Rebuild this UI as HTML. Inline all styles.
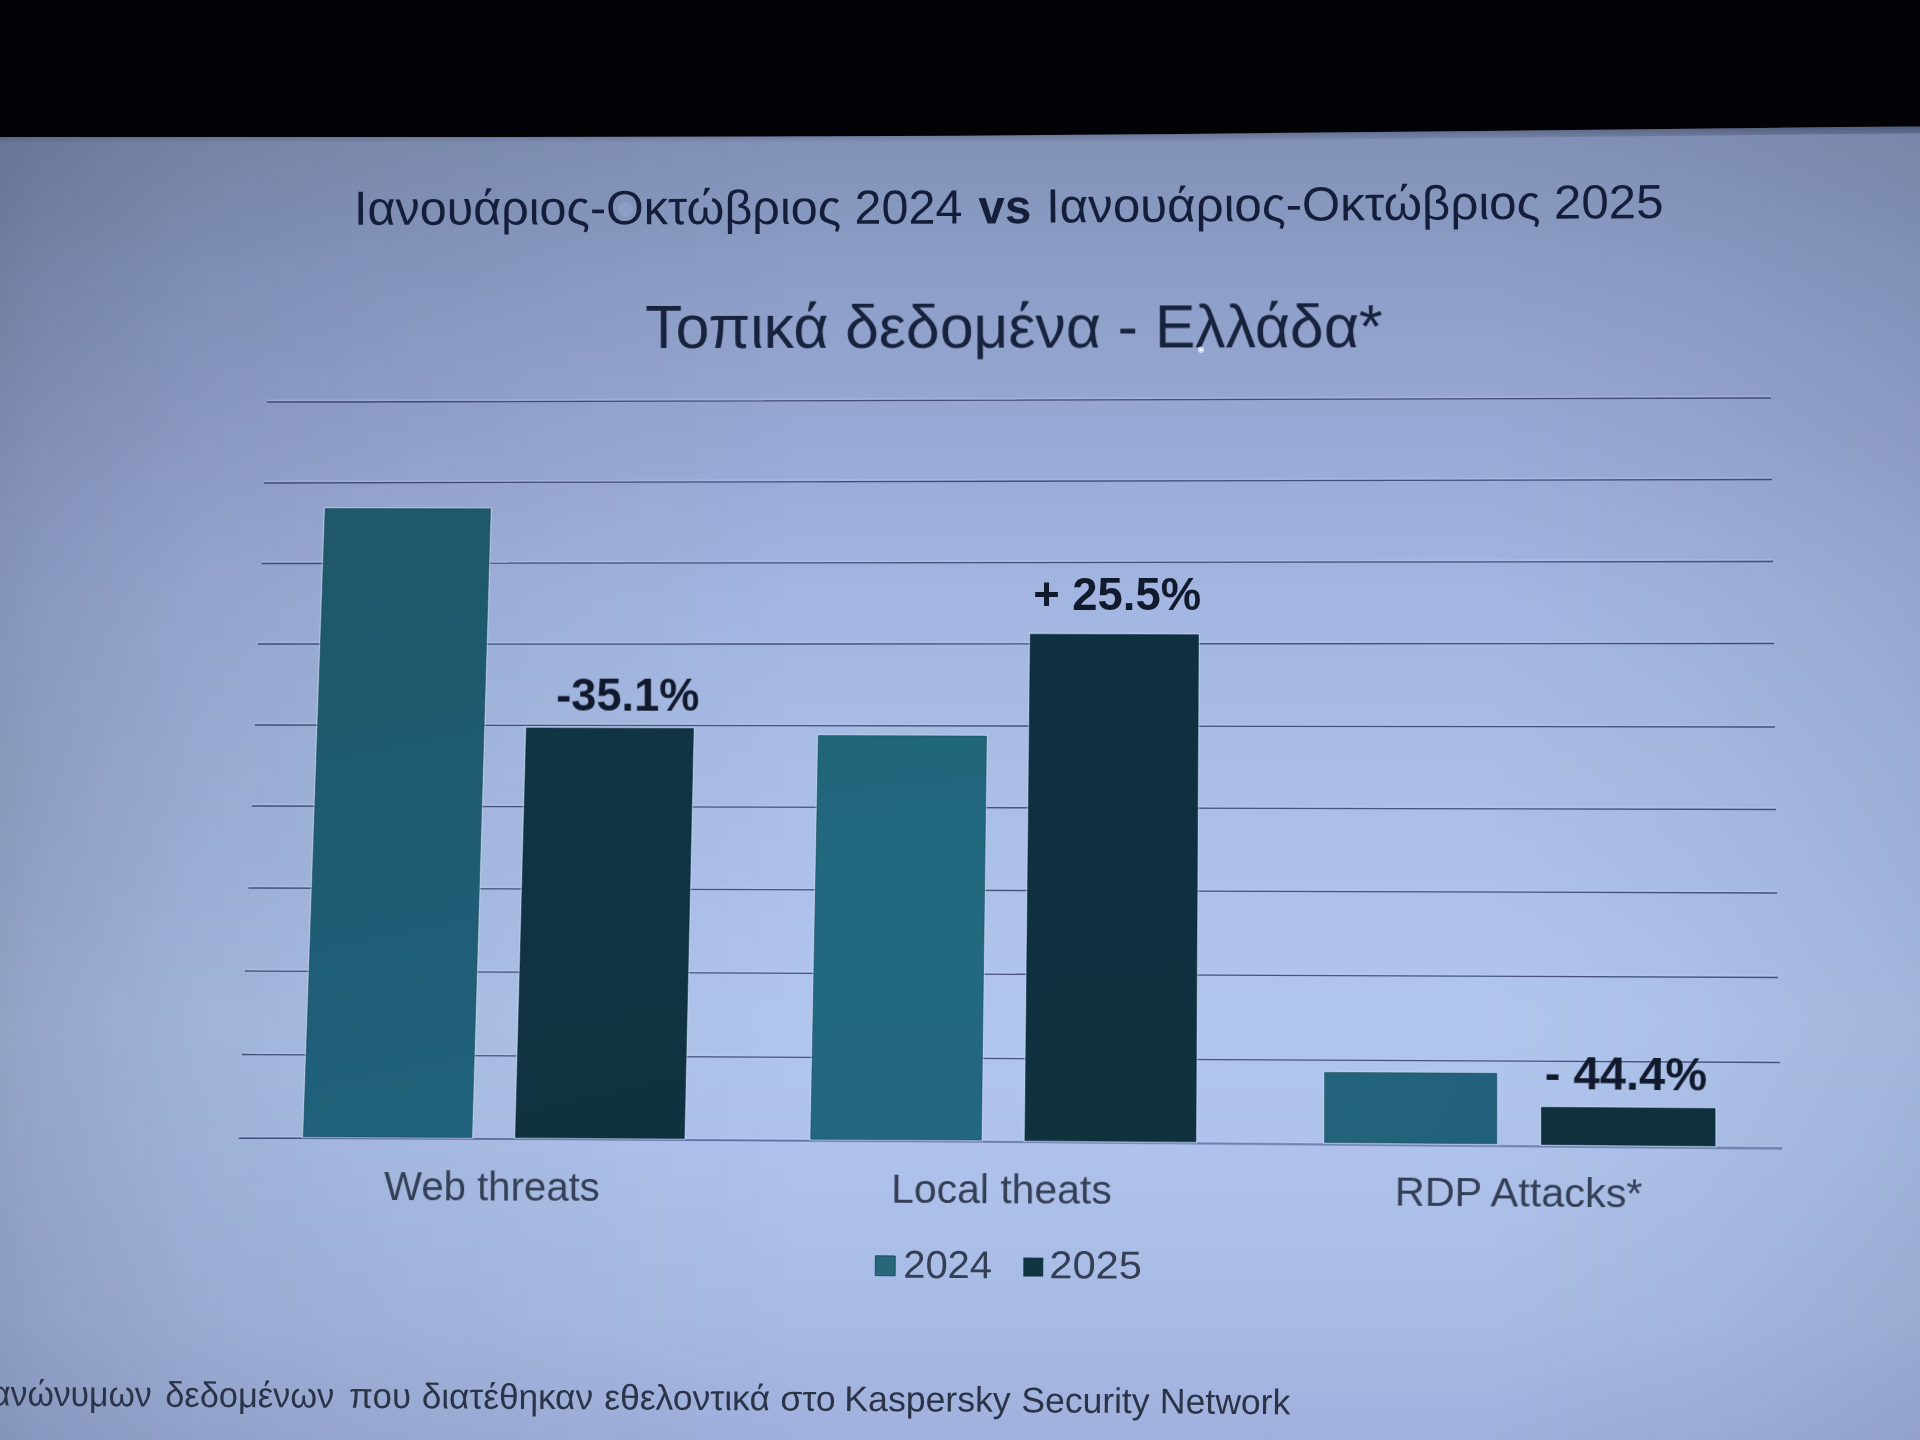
<!DOCTYPE html>
<html lang="el">
<head>
<meta charset="utf-8">
<title>Τοπικά δεδομένα - Ελλάδα</title>
<style>
  html, body { margin: 0; padding: 0; background: #030307; width: 1920px; height: 1440px; overflow: hidden; }
  svg { display: block; font-family: "Liberation Sans", sans-serif; }
  .t1 { fill: #141e3a; }
  .t2 { fill: #17223c; }
  .lab { fill: #343f55; }
  .pct { fill: #111a2c; font-weight: bold; }
  .foot { fill: #2a3348; }
  .grid { stroke: #303c66; stroke-opacity: 0.82; stroke-width: 1.3; fill: none; }
  .halo { stroke: #c4d2f4; stroke-opacity: 0.28; stroke-width: 1.6; fill: none; }
  .axis { stroke: #6070a4; stroke-opacity: 0.92; stroke-width: 2.5; fill: none; }
</style>
</head>
<body>
<svg width="1920" height="1440" viewBox="0 0 1920 1440">
  <defs>
    <linearGradient id="bgV" x1="0" y1="0" x2="0" y2="1440" gradientUnits="userSpaceOnUse">
      <stop offset="0.0951" stop-color="#8292b7"/>
      <stop offset="0.1146" stop-color="#8494ba"/>
      <stop offset="0.1875" stop-color="#8c9ec7"/>
      <stop offset="0.3090" stop-color="#99a9d5"/>
      <stop offset="0.4167" stop-color="#a3b6e1"/>
      <stop offset="0.5347" stop-color="#a9bde6"/>
      <stop offset="0.6042" stop-color="#acc0ea"/>
      <stop offset="0.7083" stop-color="#b1c6ee"/>
      <stop offset="0.7986" stop-color="#aec2eb"/>
      <stop offset="0.9167" stop-color="#a8bbe4"/>
      <stop offset="0.9861" stop-color="#a0b2dd"/>
      <stop offset="1.0000" stop-color="#9eb0db"/>
    </linearGradient>
    <linearGradient id="edgeL" x1="0" y1="0" x2="800" y2="0" gradientUnits="userSpaceOnUse">
      <stop offset="0" stop-color="#02040c" stop-opacity="0.205"/>
      <stop offset="0.05" stop-color="#02040c" stop-opacity="0.175"/>
      <stop offset="0.25" stop-color="#02040c" stop-opacity="0.105"/>
      <stop offset="0.5" stop-color="#02040c" stop-opacity="0.062"/>
      <stop offset="0.625" stop-color="#02040c" stop-opacity="0.045"/>
      <stop offset="0.81" stop-color="#02040c" stop-opacity="0.02"/>
      <stop offset="1" stop-color="#02040c" stop-opacity="0"/>
    </linearGradient>
    <linearGradient id="edgeLm" x1="0" y1="0" x2="0" y2="1440" gradientUnits="userSpaceOnUse">
      <stop offset="0" stop-color="#fff"/>
      <stop offset="0.15" stop-color="#fff"/>
      <stop offset="0.32" stop-color="#e0e0e0"/>
      <stop offset="0.55" stop-color="#f4f4f4"/>
      <stop offset="0.92" stop-color="#cfcfcf"/>
      <stop offset="1" stop-color="#c8c8c8"/>
    </linearGradient>
    <mask id="mL" maskUnits="userSpaceOnUse" x="0" y="0" width="1920" height="1440">
      <rect x="0" y="0" width="1920" height="1440" fill="url(#edgeLm)"/>
    </mask>
    <linearGradient id="edgeR" x1="1920" y1="0" x2="1480" y2="0" gradientUnits="userSpaceOnUse">
      <stop offset="0" stop-color="#02040c" stop-opacity="0.085"/>
      <stop offset="0.1" stop-color="#02040c" stop-opacity="0.072"/>
      <stop offset="0.5" stop-color="#02040c" stop-opacity="0.03"/>
      <stop offset="1" stop-color="#02040c" stop-opacity="0"/>
    </linearGradient>
    <linearGradient id="teal1" x1="0" y1="0" x2="0.06" y2="1">
      <stop offset="0" stop-color="#1f586a"/>
      <stop offset="0.15" stop-color="#1e586b"/>
      <stop offset="0.55" stop-color="#1f5c73"/>
      <stop offset="0.88" stop-color="#1f5f79"/>
      <stop offset="1" stop-color="#20627b"/>
    </linearGradient>
    <linearGradient id="teal3" x1="0" y1="0" x2="0.04" y2="1">
      <stop offset="0" stop-color="#21657a"/>
      <stop offset="0.5" stop-color="#226980"/>
      <stop offset="1" stop-color="#22667f"/>
    </linearGradient>
    <linearGradient id="teal5" x1="0" y1="0" x2="1" y2="0.2">
      <stop offset="0" stop-color="#23657c"/>
      <stop offset="1" stop-color="#21607b"/>
    </linearGradient>
    <linearGradient id="dark2" x1="0" y1="0" x2="0.1" y2="1">
      <stop offset="0" stop-color="#113444"/>
      <stop offset="0.5" stop-color="#103243"/>
      <stop offset="1" stop-color="#103240"/>
    </linearGradient>
    <linearGradient id="dark4" x1="0" y1="0" x2="0.05" y2="1">
      <stop offset="0" stop-color="#102f40"/>
      <stop offset="0.6" stop-color="#103041"/>
      <stop offset="1" stop-color="#11313f"/>
    </linearGradient>
    <filter id="soft" color-interpolation-filters="sRGB" x="-2%" y="-20%" width="104%" height="140%">
      <feGaussianBlur stdDeviation="0.55"/>
    </filter>
    <filter id="soft2" color-interpolation-filters="sRGB" x="-5%" y="-5%" width="110%" height="110%">
      <feGaussianBlur stdDeviation="0.6"/>
    </filter>
    <linearGradient id="axA" x1="238" y1="0" x2="1782" y2="0" gradientUnits="userSpaceOnUse">
      <stop offset="0" stop-color="#34427a" stop-opacity="0.9"/>
      <stop offset="0.5" stop-color="#44528a" stop-opacity="0.7"/>
      <stop offset="1" stop-color="#5a6a9c" stop-opacity="0.35"/>
    </linearGradient>
    <linearGradient id="axB" x1="238" y1="0" x2="1782" y2="0" gradientUnits="userSpaceOnUse">
      <stop offset="0" stop-color="#6e7eae" stop-opacity="0"/>
      <stop offset="0.45" stop-color="#6e7eae" stop-opacity="0.35"/>
      <stop offset="1" stop-color="#6e7eae" stop-opacity="0.85"/>
    </linearGradient>
    <linearGradient id="bandSh" x1="0" y1="128" x2="0" y2="143" gradientUnits="userSpaceOnUse">
      <stop offset="0" stop-color="#10142c" stop-opacity="0.34"/>
      <stop offset="0.55" stop-color="#10142c" stop-opacity="0.16"/>
      <stop offset="1" stop-color="#10142c" stop-opacity="0"/>
    </linearGradient>
  </defs>

  <!-- projected slide background -->
  <rect x="0" y="0" width="1920" height="1440" fill="url(#bgV)"/>
  <rect x="0" y="0" width="800" height="1440" fill="url(#edgeL)" mask="url(#mL)"/>
  <rect x="1480" y="0" width="440" height="1440" fill="url(#edgeR)"/>

  <!-- dark area above the screen -->
  <polygon points="0,136.9 500,136.9 750,136.5 960,135.7 1180,134.0 1400,131.8 1620,129.4 1840,127.0 1920,126.4 1920,133.4 1840,134.0 1620,136.4 1400,138.8 1180,141.0 960,142.7 750,143.5 500,143.9 0,143.9" fill="url(#bandSh)"/>
  <polygon points="0,0 1920,0 1920,126.4 1840,127.0 1620,129.4 1400,131.8 1180,134.0 960,135.7 750,136.5 500,136.9 0,136.9" fill="#030307" filter="url(#soft2)"/>
  <rect x="0" y="0" width="1920" height="120" fill="#030307"/>

  <!-- gridlines (left end -> right end) -->
  <g class="halo" transform="translate(0 -1.7)">
    <path d="M267 402 Q1019 402.20 1771 398"/>
    <path d="M264 483 Q1018 482.88 1772 479.5"/>
    <path d="M261.5 563.5 Q1017.25 563.56 1773 561.5"/>
    <path d="M258 644 Q1016 644.24 1774 643.5"/>
    <path d="M255 725 Q1015 725.92 1775 727"/>
    <path d="M252 806 Q1014 807.10 1776 809.5"/>
    <path d="M248.5 888 Q1012.75 889.27 1777 893"/>
    <path d="M245 971 Q1011.5 972.43 1778 977.5"/>
    <path d="M242 1054.5 Q1011 1056.09 1780 1062.5"/>
  </g>
  <g class="grid">
    <path d="M267 402 Q1019 402.20 1771 398"/>
    <path d="M264 483 Q1018 482.88 1772 479.5"/>
    <path d="M261.5 563.5 Q1017.25 563.56 1773 561.5"/>
    <path d="M258 644 Q1016 644.24 1774 643.5"/>
    <path d="M255 725 Q1015 725.92 1775 727"/>
    <path d="M252 806 Q1014 807.10 1776 809.5"/>
    <path d="M248.5 888 Q1012.75 889.27 1777 893"/>
    <path d="M245 971 Q1011.5 972.43 1778 977.5"/>
    <path d="M242 1054.5 Q1011 1056.09 1780 1062.5"/>
  </g>
  <path class="halo" d="M238.8 1136.4 L500 1137.2 L900 1139.4 L1110 1140.9 L1410 1143.4 L1782 1146.5"/>
  <path d="M238.8 1138.2 L303 1138.3 L500 1139 L900 1141.2 L1110 1142.7 L1410 1145.2 L1782 1148.4" fill="none" stroke="url(#axA)" stroke-width="1.4"/>
  <path d="M238.8 1138.2 L303 1138.3 L500 1139 L900 1141.2 L1110 1142.7 L1410 1145.2 L1782 1148.4" fill="none" stroke="url(#axB)" stroke-width="2.6"/>

  <!-- bars -->
  <g fill="none" stroke="#c2daf0" stroke-opacity="0.5" stroke-width="3.2" stroke-linejoin="miter" filter="url(#soft2)">
    <polygon points="325.2,508.6 490.5,508.8 471.8,1137.5 303.4,1136.7"/>
    <polygon points="526.4,727.9 693.5,728.4 684.3,1138.5 515.4,1137.6"/>
    <polygon points="818.4,735.6 986.5,736.1 981.3,1140.1 810.7,1139.2"/>
    <polygon points="1030.3,634.2 1198.5,634.7 1195.9,1141.8 1024.9,1140.6"/>
    <polygon points="1324.6,1072.4 1496.8,1073.3 1496.8,1143.8 1324.6,1142.5"/>
    <polygon points="1541.4,1107.2 1715.1,1108.4 1715.1,1145.9 1541.4,1144.4"/>
  </g>
  <g stroke-width="1" stroke-opacity="0.55" filter="url(#soft2)">
    <polygon fill="url(#teal1)" stroke="#17475a" points="325.2,508.6 490.5,508.8 471.8,1137.5 303.4,1136.7"/>
    <polygon fill="url(#dark2)" stroke="#0c2836" points="526.4,727.9 693.5,728.4 684.3,1138.5 515.4,1137.6"/>
    <polygon fill="url(#teal3)" stroke="#17475a" points="818.4,735.6 986.5,736.1 981.3,1140.1 810.7,1139.2"/>
    <polygon fill="url(#dark4)" stroke="#0c2836" points="1030.3,634.2 1198.5,634.7 1195.9,1141.8 1024.9,1140.6"/>
    <polygon fill="url(#teal5)" stroke="#17475a" points="1324.6,1072.4 1496.8,1073.3 1496.8,1143.8 1324.6,1142.5"/>
    <polygon fill="#11303d" stroke="#0c2836" points="1541.4,1107.2 1715.1,1108.4 1715.1,1145.9 1541.4,1144.4"/>
  </g>

  <!-- small lens artefacts -->
  <circle cx="625.5" cy="209.5" r="7.5" fill="#aab8dc" fill-opacity="0.28" filter="url(#soft2)"/>
  <g filter="url(#soft)">
  <!-- headings -->
  <text class="t1" font-size="48" transform="translate(353.9 224.8) rotate(-0.12)" textLength="608.5" lengthAdjust="spacingAndGlyphs">Ιανουάριος-Οκτώβριος 2024</text>
  <text class="t1" font-size="48" font-weight="bold" transform="translate(978.6 223.4) rotate(-0.3)" textLength="52.7" lengthAdjust="spacingAndGlyphs">vs</text>
  <text class="t1" font-size="48" transform="translate(1046.2 222.6) rotate(-0.43)" textLength="617.4" lengthAdjust="spacingAndGlyphs">Ιανουάριος-Οκτώβριος 2025</text>
  <text class="t2" font-size="60.5" transform="translate(645.2 348.0) rotate(-0.06)" textLength="737.3" lengthAdjust="spacingAndGlyphs">Τοπικά δεδομένα - Ελλάδα*</text>

  <!-- percentage labels -->
  <text class="pct" font-size="46" transform="translate(556.2 710.6) rotate(0.05)" textLength="143.2" lengthAdjust="spacingAndGlyphs">-35.1%</text>
  <text class="pct" font-size="46.5" transform="translate(1033.2 609.5) rotate(0)" textLength="167.9" lengthAdjust="spacingAndGlyphs">+ 25.5%</text>
  <text class="pct" font-size="47" transform="translate(1544.6 1088.8) rotate(0.6)" textLength="162.5" lengthAdjust="spacingAndGlyphs">- 44.4%</text>

  <!-- category labels -->
  <text class="lab" font-size="39.8" transform="translate(384.1 1200.0) rotate(0.25)" textLength="215.7" lengthAdjust="spacingAndGlyphs">Web threats</text>
  <text class="lab" font-size="39.8" transform="translate(891.1 1202.7) rotate(0.3)" textLength="220.7" lengthAdjust="spacingAndGlyphs">Local theats</text>
  <text class="lab" font-size="40.5" transform="translate(1394.7 1205.6) rotate(0.42)" textLength="247.7" lengthAdjust="spacingAndGlyphs">RDP Attacks*</text>

  <!-- legend -->
  <polygon fill="#28667a" stroke="#1b4c62" stroke-width="1" points="875.4,1255.8 895.2,1256 895.1,1275.8 875.3,1275.6"/>
  <text class="lab" font-size="39" transform="translate(903.2 1277.8) rotate(0.3)" textLength="88.8" lengthAdjust="spacingAndGlyphs">2024</text>
  <polygon fill="#123442" points="1023.4,1257.6 1043.3,1257.8 1043.2,1276.6 1023.3,1276.4"/>
  <text class="lab" font-size="39" transform="translate(1049.3 1278.2) rotate(0.3)" textLength="92.6" lengthAdjust="spacingAndGlyphs">2025</text>

  <!-- footnote -->
  <text class="foot" font-size="35.5" transform="translate(-8.9 1405.6) rotate(0.35)" textLength="160.5" lengthAdjust="spacingAndGlyphs">ανώνυμων</text>
  <text class="foot" font-size="35.5" transform="translate(165.2 1406.7) rotate(0.35)" textLength="169.0" lengthAdjust="spacingAndGlyphs">δεδομένων</text>
  <text class="foot" font-size="35.5" transform="translate(349.1 1407.8) rotate(0.35)" textLength="61.8" lengthAdjust="spacingAndGlyphs">που</text>
  <text class="foot" font-size="35.5" transform="translate(421.7 1408.3) rotate(0.35)" textLength="171.3" lengthAdjust="spacingAndGlyphs">διατέθηκαν</text>
  <text class="foot" font-size="35.5" transform="translate(604.2 1409.4) rotate(0.35)" textLength="165.7" lengthAdjust="spacingAndGlyphs">εθελοντικά</text>
  <text class="foot" font-size="35.5" transform="translate(780.2 1410.5) rotate(0.35)" textLength="55.4" lengthAdjust="spacingAndGlyphs">στο</text>
  <text class="foot" font-size="35.5" transform="translate(844.3 1410.9) rotate(0.35)" textLength="166.4" lengthAdjust="spacingAndGlyphs">Kaspersky</text>
  <text class="foot" font-size="35.5" transform="translate(1021.2 1412.2) rotate(0.44)" textLength="128.3" lengthAdjust="spacingAndGlyphs">Security</text>
  <text class="foot" font-size="35.5" transform="translate(1159.8 1413.3) rotate(0.44)" textLength="130.4" lengthAdjust="spacingAndGlyphs">Network</text>
  </g>
  <g filter="url(#soft2)">
    <circle cx="1201" cy="349.8" r="3.2" fill="#dfe8ff" fill-opacity="0.75"/>
    <circle cx="1201" cy="349.8" r="1.4" fill="#ffffff"/>
  </g>
</svg>
</body>
</html>
